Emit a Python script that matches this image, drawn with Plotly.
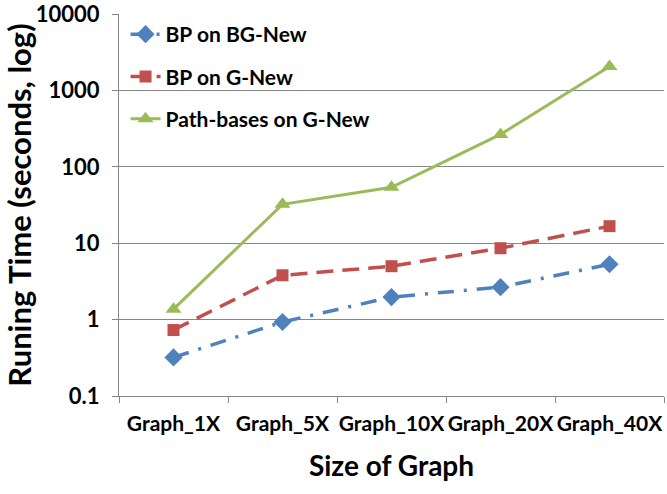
import plotly.graph_objects as go

categories = ["Graph_1X", "Graph_5X", "Graph_10X", "Graph_20X", "Graph_40X"]
bp_bg_new = [0.32, 0.93, 1.97, 2.66, 5.3]
bp_g_new = [0.73, 3.8, 5.0, 8.6, 16.7]
path_bases_g_new = [1.37, 32.3, 54, 265, 2050]
y_tickvals = [0.1, 1, 10, 100, 1000, 10000]
y_ticktext = ["0.1", "1", "10", "100", "1000", "10000"]

FONT = "Lato"
fig = go.Figure()
fig.add_trace(go.Scatter(
    x=categories, y=bp_bg_new, name="BP on BG-New", mode="lines+markers",
    legendgroup="a",
    line=dict(color="#4F81BD", width=3.5, dash="16px,10px,3px,10px"),
    marker=dict(symbol="diamond", size=14, color="#4F81BD")))
fig.add_trace(go.Scatter(
    x=categories, y=bp_g_new, name="BP on G-New", mode="lines+markers",
    legendgroup="b",
    line=dict(color="#C0504D", width=3.5, dash="17px,9px"),
    marker=dict(symbol="square", size=12, color="#C0504D")))
fig.add_trace(go.Scatter(
    x=categories, y=path_bases_g_new, name="Path-bases on G-New", mode="lines+markers",
    legendgroup="c",
    line=dict(color="#9BBB59", width=3),
    marker=dict(symbol="triangle-up", size=14, color="#9BBB59")))

fig.update_layout(
    width=667, height=494,
    margin=dict(l=119, r=3, t=14, b=98),
    paper_bgcolor="white", plot_bgcolor="white",
    font=dict(family=FONT, color="black", size=21),
    legend=dict(x=0.012, y=1.0, xanchor="left", yanchor="top",
                bgcolor="rgba(0,0,0,0)", font=dict(size=21, family=FONT, weight="bold"),
                tracegroupgap=12, traceorder="grouped"),
    xaxis=dict(
        type="category", showgrid=False, showline=True, linecolor="#868686", linewidth=1,
        ticks="outside", tickson="boundaries", ticklen=6, tickcolor="#868686",
        tickfont=dict(size=21, family=FONT, weight="bold"), ticklabelstandoff=9,
        tickangle=0, ticklabeloverflow="allow",
        range=[-0.5, 4.5], automargin=False,
        title=dict(text="Size of Graph", font=dict(size=28, family=FONT, weight="bold"), standoff=22),
    ),
    yaxis=dict(
        type="log", range=[-1, 4], tickvals=y_tickvals, ticktext=y_ticktext,
        showgrid=True, gridcolor="#868686", gridwidth=1,
        showline=True, linecolor="#868686", linewidth=1,
        ticks="outside", ticklen=6, tickcolor="#868686",
        tickfont=dict(size=22, family=FONT, weight="bold"), ticklabelstandoff=8,
        ticklabeloverflow="allow",
        automargin=False,
        title=dict(text="Runing Time (seconds, log)", font=dict(size=31, family=FONT, weight="bold"), standoff=4),
        zeroline=False,
    ),
)
fig.write_html("out.html", config={"displayModeBar": False},
               post_script="document.body.style.margin='0px';")
